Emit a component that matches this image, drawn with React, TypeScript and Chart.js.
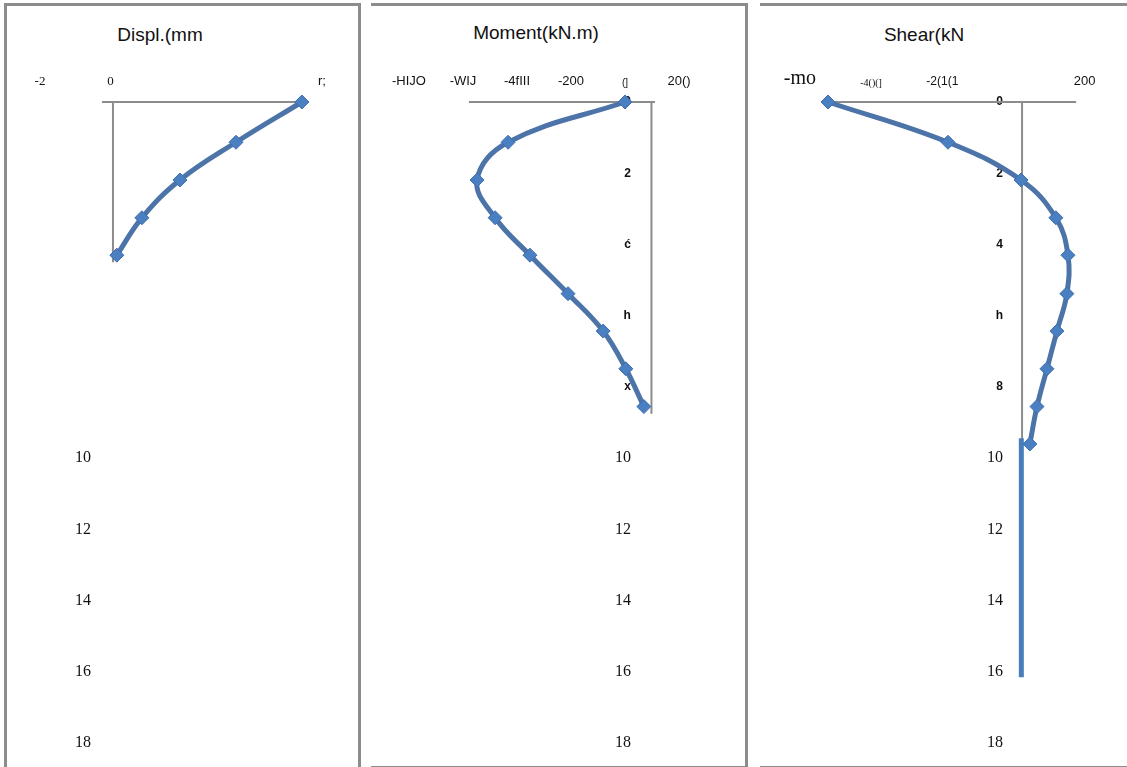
import React, { useEffect, useRef } from 'react';
import { Chart, registerables } from 'chart.js';

Chart.register(...registerables);

// ---- data ----
const depths = [0, 1.13, 2.19, 3.25, 4.3, 5.38, 6.43, 7.49, 8.55, 9.6];
const displValues = [5.43, 3.56, 1.97, 0.89, 0.18];
const momentValues = [0, -433, -548, -481, -352, -211, -81, 3, 70];
const shearValues = [-521, -184, 21, 119, 153, 150, 122, 94, 66, 46];
const shearTailX = [22, 22];
const shearTailDepth = [9.44, 16.15];

const depthTicks = [0, 2, 4, 6, 8, 10, 12, 14, 16, 18];
const displDepthLabels = ['', '', '', '', '', '10', '12', '14', '16', '18'];
const momentDepthLabels = ['0', '2', 'ć', 'h', 'x', '10', '12', '14', '16', '18'];
const shearDepthLabels = ['0', '2', '4', 'h', '8', '10', '12', '14', '16', '18'];

const displTicks = [-2, 0, 6];
const displTickLabels = ['-2', '0', 'r;'];
const momentTicks = [-800, -600, -400, -200, 0, 200];
const momentTickLabels = ['-HIJO', '-WIJ', '-4fIII', '-200', '(]', '20()'];
const shearTicks = [-600, -400, -200, 200];
const shearTickLabels = ['-mo', '-4()(]', '-2(1(1', '200'];

// axis reference lines (value coordinates)
const displAxisV = { x: 0.07, depthEnd: 4.5 };
const displAxisH = [-0.24, 5.52];
const momentAxisV = { x: 98, depthEnd: 8.75 };
const momentAxisH = [-578, 111];
const shearAxisV = { x: 24, depthEnd: 9.5 };
const shearAxisH = [-535, 176];

// ---- styles ----
const SANS = 'Liberation Sans, Arial, sans-serif';
const SERIF = 'Liberation Serif, Times New Roman, serif';
const displTickFonts = [
  { family: SERIF, size: 13 },
  { family: SERIF, size: 13 },
  { family: SANS, size: 13 },
];
const momentTickFonts = [
  { family: SANS, size: 13 },
  { family: SANS, size: 13 },
  { family: SANS, size: 13 },
  { family: SANS, size: 13 },
  { family: SANS, size: 10 },
  { family: SANS, size: 13 },
];
const shearTickFonts = [
  { family: SERIF, size: 20, lineHeight: 1.0 },
  { family: SERIF, size: 10 },
  { family: SANS, size: 12 },
  { family: SANS, size: 13 },
];

const LINE = '#4d74a8';
const MARK = '#4a7fc1';
const AXIS = '#8c8c8c';

type PanelCfg = {
  left: number;
  width: number;
  min: number;
  max: number;
  xTicks: number[];
  xLabels: string[];
  xFonts: any[];
  depthLabels: string[];
  labelAnchor: number;
  values: number[];
  axisV: { x: number; depthEnd: number };
  axisH: number[];
  tail?: boolean;
};

const TOP = 7;
const HEIGHT = 754;

function Panel({ cfg }: { cfg: PanelCfg }) {
  const ref = useRef<HTMLCanvasElement>(null);
  useEffect(() => {
    const curve = cfg.values.map((v, i) => ({ x: v, y: depths[i] }));
    const datasets: any[] = [
      {
        data: curve,
        showLine: true,
        tension: 0.4,
        borderColor: LINE,
        borderWidth: 5,
        pointStyle: 'rectRot',
        pointRadius: 7,
        pointBackgroundColor: MARK,
        pointBorderColor: '#3e6fae',
        pointBorderWidth: 1,
        clip: false,
      },
    ];
    if (cfg.tail) {
      datasets.push({
        data: shearTailX.map((v, i) => ({ x: v, y: shearTailDepth[i] })),
        showLine: true,
        borderColor: '#4a7ebb',
        borderWidth: 5,
        pointRadius: 0,
        clip: false,
      });
    }
    datasets.push(
      {
        data: [
          { x: cfg.axisV.x, y: 0 },
          { x: cfg.axisV.x, y: cfg.axisV.depthEnd },
        ],
        showLine: true,
        borderColor: AXIS,
        borderWidth: 2,
        pointRadius: 0,
        clip: false,
      },
      {
        data: [
          { x: cfg.axisH[0], y: 0 },
          { x: cfg.axisH[1], y: 0 },
        ],
        showLine: true,
        borderColor: AXIS,
        borderWidth: 2,
        pointRadius: 0,
        clip: false,
      }
    );
    const chart = new Chart(ref.current as HTMLCanvasElement, {
      type: 'scatter',
      data: { datasets },
      options: {
        responsive: false,
        animation: false,
        layout: { padding: 0, autoPadding: false },
        plugins: {
          legend: { display: false },
          tooltip: { enabled: false },
          title: { display: false },
        },
        scales: {
          x: {
            type: 'linear',
            position: 'top',
            min: cfg.min,
            max: cfg.max,
            afterBuildTicks: (s: any) => {
              s.ticks = cfg.xTicks.map((v) => ({ value: v }));
            },
            afterFit: (s: any) => {
              s.height = 95;
              s.paddingLeft = 0;
              s.paddingRight = 0;
            },
            grid: { display: false, drawTicks: false },
            border: { display: false },
            ticks: {
              autoSkip: false,
              maxRotation: 0,
              padding: 13,
              color: '#111',
              callback: (_v: any, i: number) => cfg.xLabels[i],
              font: (ctx: any) => cfg.xFonts[ctx.index] || { family: SANS, size: 13 },
            },
          },
          y: {
            type: 'linear',
            axis: 'y',
            position: { x: cfg.labelAnchor } as any,
            reverse: true,
            min: 0,
            max: 18.5,
            z: 1,
            afterBuildTicks: (s: any) => {
              s.ticks = depthTicks.map((v) => ({ value: v }));
            },
            afterFit: (s: any) => {
              s.paddingTop = 0;
              s.paddingBottom = 0;
            },
            grid: { display: false, drawTicks: false },
            border: { display: false },
            ticks: {
              autoSkip: false,
              padding: 0,
              color: '#111',
              callback: (_v: any, i: number) => cfg.depthLabels[i],
              font: (ctx: any) =>
                ctx.tick && ctx.tick.value < 10
                  ? { family: SANS, size: 12, weight: 'bold' }
                  : { family: SERIF, size: 16 },
            },
          },
        } as any,
      },
    } as any);
    return () => chart.destroy();
  }, []);
  return (
    <canvas
      ref={ref}
      width={cfg.width}
      height={HEIGHT}
      style={{ position: 'absolute', left: cfg.left, top: TOP, width: cfg.width, height: HEIGHT }}
    />
  );
}

const panels: PanelCfg[] = [
  {
    left: 7,
    width: 348,
    min: (7 - 110.5) / 35.25,
    max: (355 - 110.5) / 35.25,
    xTicks: displTicks,
    xLabels: displTickLabels,
    xFonts: displTickFonts,
    depthLabels: displDepthLabels,
    labelAnchor: -0.55,
    values: displValues,
    axisV: displAxisV,
    axisH: displAxisH,
  },
  {
    left: 362,
    width: 384,
    min: (362 - 625) / 0.27,
    max: (746 - 625) / 0.27,
    xTicks: momentTicks,
    xLabels: momentTickLabels,
    xFonts: momentTickFonts,
    depthLabels: momentDepthLabels,
    labelAnchor: 22,
    values: momentValues,
    axisV: momentAxisV,
    axisH: momentAxisH,
  },
  {
    left: 762,
    width: 365,
    min: (762 - 1013.5) / 0.356,
    max: (1127 - 1013.5) / 0.356,
    xTicks: shearTicks,
    xLabels: shearTickLabels,
    xFonts: shearTickFonts,
    depthLabels: shearDepthLabels,
    labelAnchor: -29.5,
    values: shearValues,
    axisV: shearAxisV,
    axisH: shearAxisH,
    tail: true,
  },
];

const titles = [
  { text: 'Displ.(mm', cx: 160, cy: 35 },
  { text: 'Moment(kN.m)', cx: 536, cy: 33 },
  { text: 'Shear(kN', cx: 924, cy: 35 },
];

const borderColor = '#8c8c8c';

export default function App() {
  return (
    <div
      style={{
        position: 'absolute',
        left: 0,
        top: 0,
        width: 1127,
        height: 767,
        background: '#fff',
        overflow: 'hidden',
      }}
    >
      {/* panel frames */}
      <div style={{ position: 'absolute', left: 4, top: 3, width: 351, height: 800, borderLeft: `3px solid ${borderColor}`, borderTop: `3px solid ${borderColor}`, borderRight: `3px solid ${borderColor}` }} />
      <div style={{ position: 'absolute', left: 371, top: 3, width: 374, height: 760, borderTop: `3px solid ${borderColor}`, borderRight: `3px solid ${borderColor}`, borderBottom: `3px solid ${borderColor}` }} />
      <div style={{ position: 'absolute', left: 760, top: 3, width: 380, height: 760, borderTop: `3px solid ${borderColor}`, borderBottom: `3px solid ${borderColor}` }} />
      {titles.map((t) => (
        <div
          key={t.text}
          style={{
            position: 'absolute',
            left: t.cx - 100,
            top: t.cy - 11,
            width: 200,
            height: 22,
            lineHeight: '22px',
            textAlign: 'center',
            fontFamily: SANS,
            fontSize: 19,
            color: '#111',
          }}
        >
          {t.text}
        </div>
      ))}
      {panels.map((p, i) => (
        <Panel key={i} cfg={p} />
      ))}
    </div>
  );
}
